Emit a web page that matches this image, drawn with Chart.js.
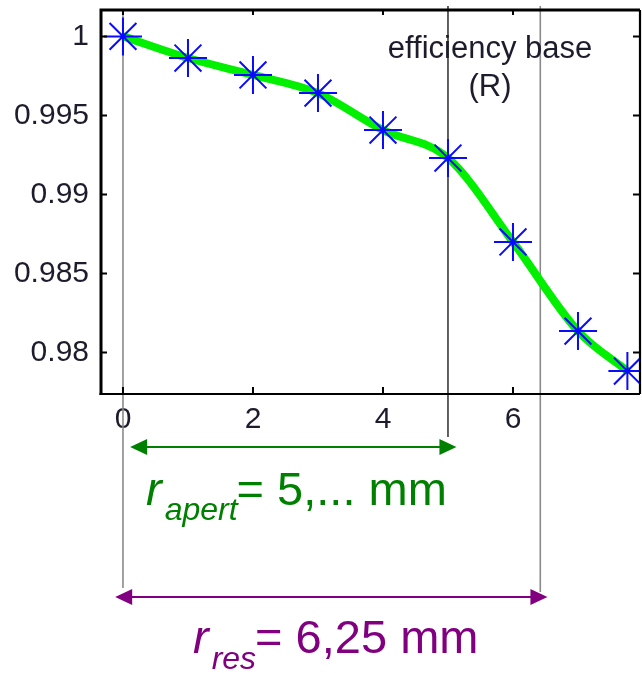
<!DOCTYPE html>
<html>
<head>
<meta charset="utf-8">
<script src="https://cdn.jsdelivr.net/npm/chart.js@4.4.1/dist/chart.umd.min.js"></script>
<style>
  html, body { margin: 0; padding: 0; background: #ffffff; }
  #wrap { width: 642px; height: 673px; position: relative; }
</style>
</head>
<body>
<div id="wrap"><canvas id="c"></canvas></div>
<script>
// ---- data ----
const xTickValues = [0, 2, 4, 6];
const yTickValues = [0.98, 0.985, 0.99, 0.995, 1];
const radiusMm = [0, 1, 2, 3, 4, 5, 6, 7, 7.76];
const efficiency = [1.0, 0.99863, 0.99756, 0.99641, 0.99407, 0.99230, 0.98699, 0.98135, 0.97882];
const apertureRadius = 5;
const resonatorRadius = 6.42;
const legendLines = ["efficiency base", "(R)"];
const apertLabel = ["r", "apert", "= 5,... mm"];
const resLabel = ["r", "res", "= 6,25 mm"];

const points = radiusMm.map((x, i) => ({ x: x, y: efficiency[i] }));
const FONT = "'Liberation Sans', Arial, sans-serif";

const decor = {
  id: 'decor',
  beforeDatasetsDraw(chart) {
    const ctx = chart.ctx, xs = chart.scales.x, a = chart.chartArea;
    ctx.save();
    const x0 = xs.getPixelForValue(0);
    const x5 = xs.getPixelForValue(apertureRadius);
    const xr = xs.getPixelForValue(resonatorRadius);
    ctx.lineWidth = 1.6;
    ctx.strokeStyle = '#8a8a8a';
    ctx.beginPath(); ctx.moveTo(x0, a.top); ctx.lineTo(x0, 588); ctx.stroke();
    ctx.beginPath(); ctx.moveTo(xr, a.top - 4); ctx.lineTo(xr, 592); ctx.stroke();
    ctx.strokeStyle = '#3a3a3a';
    ctx.beginPath(); ctx.moveTo(x5, a.top - 4); ctx.lineTo(x5, 437); ctx.stroke();
    ctx.fillStyle = '#1c1c2c';
    ctx.font = '31px ' + FONT;
    ctx.textAlign = 'center';
    ctx.textBaseline = 'alphabetic';
    ctx.fillText(legendLines[0], 490, 58);
    ctx.fillText(legendLines[1], 490, 96);
    ctx.restore();
  },
  afterDraw(chart) {
    const ctx = chart.ctx, xs = chart.scales.x, ys = chart.scales.y, a = chart.chartArea;
    ctx.save();
    ctx.strokeStyle = '#000';
    ctx.lineWidth = 3;
    ctx.beginPath();
    ctx.moveTo(a.left, a.top); ctx.lineTo(a.right, a.top);
    ctx.moveTo(a.left, a.top - 1.5); ctx.lineTo(a.left, a.bottom + 1);
    ctx.stroke();
    ctx.lineWidth = 2.2;
    ctx.beginPath();
    ctx.moveTo(a.left - 1.5, a.bottom); ctx.lineTo(a.right, a.bottom);
    ctx.moveTo(a.right, a.top); ctx.lineTo(a.right, a.bottom);
    ctx.stroke();
    ctx.lineWidth = 2;
    ctx.beginPath();
    xTickValues.forEach(v => {
      const px = xs.getPixelForValue(v);
      ctx.moveTo(px, a.bottom); ctx.lineTo(px, a.bottom - 7);
      ctx.moveTo(px, a.top); ctx.lineTo(px, a.top + 5);
    });
    yTickValues.forEach(v => {
      const py = ys.getPixelForValue(v);
      ctx.moveTo(a.left, py); ctx.lineTo(a.left + 6, py);
      ctx.moveTo(a.right, py); ctx.lineTo(a.right - 7, py);
    });
    ctx.stroke();

    function arrow(x1, x2, y, color) {
      ctx.strokeStyle = color; ctx.fillStyle = color; ctx.lineWidth = 2.2;
      const hl = 17, hw = 8;
      ctx.beginPath(); ctx.moveTo(x1 + hl - 2, y); ctx.lineTo(x2 - hl + 2, y); ctx.stroke();
      ctx.beginPath(); ctx.moveTo(x1, y); ctx.lineTo(x1 + hl, y - hw); ctx.lineTo(x1 + hl, y + hw); ctx.closePath(); ctx.fill();
      ctx.beginPath(); ctx.moveTo(x2, y); ctx.lineTo(x2 - hl, y - hw); ctx.lineTo(x2 - hl, y + hw); ctx.closePath(); ctx.fill();
    }
    arrow(xs.getPixelForValue(0.11), xs.getPixelForValue(apertureRadius + 0.13), 447, '#008000');
    arrow(xs.getPixelForValue(-0.12), xs.getPixelForValue(resonatorRadius + 0.11), 597, '#800080');

    function label(parts, x, base, subBase, color) {
      ctx.fillStyle = color;
      ctx.textAlign = 'left';
      ctx.textBaseline = 'alphabetic';
      ctx.font = 'italic 47px ' + FONT;
      ctx.fillText(parts[0], x, base);
      let cx = x + ctx.measureText(parts[0]).width + 3;
      ctx.font = 'italic 32px ' + FONT;
      ctx.fillText(parts[1], cx, subBase);
      cx += ctx.measureText(parts[1]).width - 1;
      ctx.font = '47px ' + FONT;
      ctx.fillText(parts[2], cx, base);
    }
    label(apertLabel, 146, 505, 520, '#008000');
    label(resLabel, 193, 653, 669, '#800080');
    ctx.restore();
  }
};

function zeroPad(s) { s.paddingTop = 0; s.paddingBottom = 0; s.paddingLeft = 0; s.paddingRight = 0; }

new Chart(document.getElementById('c'), {
  type: 'line',
  data: {
    datasets: [
      {
        data: points,
        showLine: false,
        pointStyle: 'star',
        pointRadius: 19,
        pointHoverRadius: 19,
        pointBorderColor: '#0a0aff',
        pointBackgroundColor: '#0a0aff',
        pointBorderWidth: 2,
        order: 0
      },
      {
        data: points,
        borderColor: '#00f000',
        borderWidth: 8,
        pointRadius: 0,
        cubicInterpolationMode: 'monotone',
        fill: false,
        order: 1
      }
    ]
  },
  options: {
    responsive: true,
    maintainAspectRatio: false,
    animation: false,
    devicePixelRatio: 1,
    layout: { autoPadding: false, padding: { top: 10, right: 2, left: 0, bottom: 239 } },
    plugins: { legend: { display: false }, tooltip: { enabled: false } },
    scales: {
      x: {
        type: 'linear',
        min: -0.338,
        max: 7.954,
        afterBuildTicks: s => { s.ticks = xTickValues.map(v => ({ value: v })); },
        afterFit: s => { s.height = 40; zeroPad(s); },
        grid: { display: false, drawTicks: false },
        border: { display: false },
        ticks: {
          padding: 8,
          color: '#1c1c2c',
          font: { family: FONT, size: 30 },
          callback: v => String(v)
        }
      },
      y: {
        type: 'linear',
        min: 0.97737,
        max: 1.00167,
        afterBuildTicks: s => { s.ticks = yTickValues.map(v => ({ value: v })); },
        afterFit: s => { s.width = 101; zeroPad(s); },
        grid: { display: false, drawTicks: false },
        border: { display: false },
        ticks: {
          padding: 12,
          color: '#1c1c2c',
          font: { family: FONT, size: 30 },
          callback: v => String(v)
        }
      }
    }
  },
  plugins: [decor]
});
</script>
</body>
</html>
